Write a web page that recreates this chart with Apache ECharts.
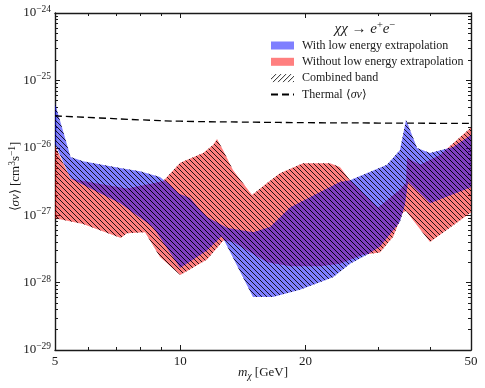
<!DOCTYPE html>
<html>
<head>
<meta charset="utf-8">
<script src="https://cdn.jsdelivr.net/npm/echarts@6.0.0/dist/echarts.min.js"></script>
<style>
  html, body { margin: 0; padding: 0; background: #fff; }
  #chart { width: 485px; height: 388px; }
</style>
</head>
<body>
<div id="chart"></div>
<script>
// band edges as [mass in GeV, <sigma v> in cm^3 s^-1]
const blueUpper = [
  [5.0, 4.6e-26], [5.45, 7.3e-27], [5.84, 6.3e-27], [7.17, 5.0e-27], [8.0, 4.5e-27],
  [8.94, 3.7e-27], [9.45, 2.8e-27], [9.9, 2.1e-27], [10.56, 1.8e-27], [11.16, 1.2e-27],
  [11.6, 9.4e-28], [12.95, 6.5e-28], [14.96, 5.6e-28], [16.44, 6.7e-28], [18.36, 1.3e-27],
  [21.7, 2.2e-27], [24.2, 3.1e-27], [25.6, 3.3e-27], [31.4, 5.6e-27], [33.75, 9.3e-27],
  [34.9, 2.6e-26], [37.1, 9.9e-27], [39.85, 8.4e-27], [45.3, 1.03e-26], [50, 1.55e-26]
];
const blueLower = [
  [5.0, 1.15e-26], [5.45, 3.5e-27], [7.17, 1.5e-27], [8.6, 6.7e-28], [10.0, 1.65e-28],
  [11.6, 3.0e-28], [12.6, 4.9e-28], [14.96, 6.1e-29], [16.7, 6.1e-29], [19.4, 7.8e-29],
  [23.3, 1.2e-28], [25.6, 1.9e-28], [28.1, 2.6e-28], [30.2, 3.4e-28], [33.75, 8.0e-28],
  [34.7, 1.45e-27], [35.3, 3.1e-27], [39.85, 1.5e-27], [50, 2.6e-27]
];
const redUpper = [
  [5.0, 1.05e-26], [5.45, 3.5e-27], [6.42, 2.9e-27], [7.45, 2.5e-27], [9.09, 3.2e-27],
  [10.0, 6.0e-27], [11.35, 8.4e-27], [11.99, 1.1e-26], [12.26, 1.35e-26], [12.67, 9.3e-27],
  [13.39, 4.7e-27], [14.88, 2.0e-27], [16.17, 3.0e-27], [17.37, 4.2e-27], [19.73, 5.9e-27],
  [22.9, 5.9e-27], [24.2, 5.2e-27], [25.6, 3.3e-27], [29.9, 1.3e-27], [33.75, 2.4e-27],
  [34.9, 3.0e-27], [35.1, 7.1e-27], [37.7, 5.6e-27], [42.1, 7.8e-27], [50, 2.0e-26]
];
const redLower = [
  [5.0, 9.0e-28], [5.84, 7.4e-28], [7.2, 4.6e-28], [7.45, 5.4e-28], [8.23, 5.6e-28],
  [8.94, 2.4e-28], [10.0, 1.3e-28], [11.6, 2.2e-28], [12.7, 4.2e-28], [13.4, 4.0e-28],
  [16.17, 2.0e-28], [18.4, 1.75e-28], [21.7, 1.75e-28], [24.2, 1.9e-28], [27.5, 2.6e-28],
  [30.2, 2.8e-28], [32.5, 4.8e-28], [34.3, 1.1e-27], [34.9, 1.15e-27], [39.85, 4.0e-28],
  [50, 1.1e-27]
];
const thermalMass = [5, 6.4, 8, 10, 15, 20, 30, 50];
const thermalValue = [2.97e-26, 2.77e-26, 2.6e-26, 2.48e-26, 2.4e-26, 2.36e-26, 2.33e-26, 2.3e-26];

const xTickValues = [5, 10, 20, 50];
const xMinorValues = [6, 7, 8, 9, 30, 40];
const yTickValues = [1e-29, 1e-28, 1e-27, 1e-26, 1e-25, 1e-24];
const yMinorMantissas = [2, 3, 4, 5, 6, 7, 8, 9];

const FONT = 'Liberation Serif';
const INK = '#1a1a1a';

function makeHatch (dir, size) {
  const c = document.createElement('canvas');
  c.width = size;
  c.height = size;
  const ctx = c.getContext('2d');
  ctx.strokeStyle = 'rgba(0,0,0,0.85)';
  ctx.lineWidth = 1;
  ctx.beginPath();
  for (let k = -1; k <= 1; k++) {
    if (dir === 'back') {
      ctx.moveTo(k * size, 0);
      ctx.lineTo(k * size + size, size);
    } else {
      ctx.moveTo(k * size, size);
      ctx.lineTo(k * size + size, 0);
    }
  }
  ctx.stroke();
  return { image: c, repeat: 'repeat' };
}

const plotHatch = makeHatch('back', 5);
const legendHatch = makeHatch('fwd', 5);

function bandRenderer (upper, lower, fill) {
  return function (params, api) {
    if (params.dataIndex !== 0) return;
    const pts = upper.map(p => api.coord(p))
      .concat(lower.slice().reverse().map(p => api.coord(p)));
    return {
      type: 'group',
      children: [
        { type: 'polygon', shape: { points: pts }, style: { fill: fill, stroke: null } },
        { type: 'polygon', shape: { points: pts }, style: { fill: plotHatch, stroke: null } }
      ]
    };
  };
}

const xLo = Math.log10(5), xHi = Math.log10(50);
const yLo = Math.round(Math.log10(yTickValues[0]));
const yHi = Math.round(Math.log10(yTickValues[yTickValues.length - 1]));
const xMajor = xTickValues.map(v => Math.log10(v));
const xMinor = xMinorValues.map(v => Math.log10(v));
const yMajor = yTickValues.map(v => Math.round(Math.log10(v)));
const yMinor = [];
yMajor.slice(0, -1).forEach(e => yMinorMantissas.forEach(m => yMinor.push(e + Math.log10(m))));

const axisLine = { show: true, lineStyle: { color: INK, width: 1.4 } };
const tickLine = { color: INK, width: 1 };

function frameAxis (pos, min, max, major, minor, label) {
  return [
    {
      type: 'value', position: pos, min: min, max: max,
      axisLine: axisLine,
      axisTick: { inside: true, length: 5, customValues: major, lineStyle: tickLine },
      axisLabel: label || { show: false },
      splitLine: { show: false }
    },
    {
      type: 'value', position: pos, min: min, max: max,
      axisLine: { show: false },
      axisTick: { inside: true, length: 3, customValues: minor, lineStyle: tickLine },
      axisLabel: { show: false },
      splitLine: { show: false }
    }
  ];
}

const xBottom = frameAxis('bottom', xLo, xHi, xMajor, xMinor, {
  customValues: xMajor, margin: 5, color: INK, fontFamily: FONT, fontSize: 13,
  formatter: v => String(Math.round(Math.pow(10, v)))
});
Object.assign(xBottom[0], {
  name: '{i|m}{sub|χ}{t| [GeV]}', nameLocation: 'middle', nameGap: 14.5, nameMoveOverlap: false,
  nameTextStyle: {
    rich: {
      i: { fontFamily: FONT, fontSize: 13, fontStyle: 'italic', color: INK, lineHeight: 17 },
      sub: { fontFamily: FONT, fontSize: 9.5, fontStyle: 'italic', color: INK, verticalAlign: 'bottom' },
      t: { fontFamily: FONT, fontSize: 13, color: INK, lineHeight: 17 }
    }
  }
});

const yLeft = frameAxis('left', yLo, yHi, yMajor, yMinor, {
  customValues: yMajor, margin: 4,
  formatter: v => '{b|10}{s|−' + Math.round(-v) + '}',
  rich: {
    b: { fontFamily: FONT, fontSize: 13, color: INK, lineHeight: 17 },
    s: { fontFamily: FONT, fontSize: 9.5, color: INK, verticalAlign: 'top' }
  }
});
Object.assign(yLeft[0], {
  name: '{t|⟨}{i|σv}{t|⟩ [cm}{s|3}{t|s}{s|−1}{t|]}', nameLocation: 'middle', nameGap: 31, nameRotate: 90,
  nameMoveOverlap: false,
  nameTextStyle: {
    padding: [0, 0, 0, 10],
    rich: {
      t: { fontFamily: FONT, fontSize: 13, color: INK, lineHeight: 17 },
      i: { fontFamily: FONT, fontSize: 13, fontStyle: 'italic', color: INK, lineHeight: 17 },
      s: { fontFamily: FONT, fontSize: 9.5, color: INK, verticalAlign: 'top' }
    }
  }
});

const option = {
  animation: false,
  backgroundColor: '#fff',
  grid: { left: 55, right: 14, top: 13, bottom: 38, containLabel: false, outerBoundsMode: 'none' },
  xAxis: [
    { type: 'log', logBase: 10, min: 5, max: 50, show: false, position: 'bottom' }
  ].concat(xBottom, frameAxis('top', xLo, xHi, xMajor, xMinor)),
  yAxis: [
    { type: 'log', logBase: 10, min: yTickValues[0], max: yTickValues[yTickValues.length - 1], show: false, position: 'left' }
  ].concat(yLeft, frameAxis('right', yLo, yHi, yMajor, yMinor)),
  legend: {
    orient: 'vertical', left: 270, top: 39, padding: 0,
    itemWidth: 23, itemHeight: 8, itemGap: 3.3, selectedMode: false,
    data: [
      { name: 'With low energy extrapolation', icon: 'rect' },
      { name: 'Without low energy extrapolation', icon: 'rect' },
      { name: 'Combined band', icon: 'rect' },
      { name: 'Thermal ⟨σv⟩', itemStyle: { color: 'rgba(0,0,0,0)', borderWidth: 0 } }
    ],
    formatter: name => name === 'Thermal ⟨σv⟩' ? 'Thermal ⟨{i|σv}⟩' : name,
    textStyle: {
      fontFamily: FONT, fontSize: 12, color: INK, lineHeight: 13, padding: [0, 0, 0, 3],
      rich: { i: { fontFamily: FONT, fontSize: 12, fontStyle: 'italic', color: INK } }
    }
  },
  graphic: [{
    type: 'text', x: 365, y: 29,
    style: {
      text: '{i|χχ} → {i|e}{s|+}{i|e}{s|−}',
      align: 'center', verticalAlign: 'middle',
      fontFamily: FONT, fontSize: 15, fill: INK,
      rich: {
        i: { fontFamily: FONT, fontSize: 15, fontStyle: 'italic', fill: INK, lineHeight: 19 },
        s: { fontFamily: FONT, fontSize: 10.5, fill: INK, verticalAlign: 'top' }
      }
    }
  }],
  series: [
    {
      type: 'custom', name: 'Without low energy extrapolation', silent: true, z: 2,
      xAxisIndex: 0, yAxisIndex: 0,
      itemStyle: { color: 'rgba(255,0,0,0.5)' },
      renderItem: bandRenderer(redUpper, redLower, 'rgba(255,0,0,0.5)'),
      data: redUpper.concat(redLower)
    },
    {
      type: 'custom', name: 'With low energy extrapolation', silent: true, z: 3,
      xAxisIndex: 0, yAxisIndex: 0,
      itemStyle: { color: 'rgba(0,0,255,0.5)' },
      renderItem: bandRenderer(blueUpper, blueLower, 'rgba(0,0,255,0.5)'),
      data: blueUpper.concat(blueLower)
    },
    {
      type: 'custom', name: 'Combined band', silent: true,
      xAxisIndex: 0, yAxisIndex: 0,
      itemStyle: { color: legendHatch },
      renderItem: () => null,
      data: []
    },
    {
      type: 'line', name: 'Thermal ⟨σv⟩', silent: true, z: 4,
      xAxisIndex: 0, yAxisIndex: 0,
      showSymbol: false, symbol: 'none', smooth: true,
      lineStyle: { color: '#000', width: 1.3, type: [7, 4] },
      itemStyle: { color: '#000' },
      data: thermalMass.map((m, i) => [m, thermalValue[i]])
    }
  ]
};

const chart = echarts.init(document.getElementById('chart'), null, { renderer: 'canvas' });
chart.setOption(option);
</script>
</body>
</html>
